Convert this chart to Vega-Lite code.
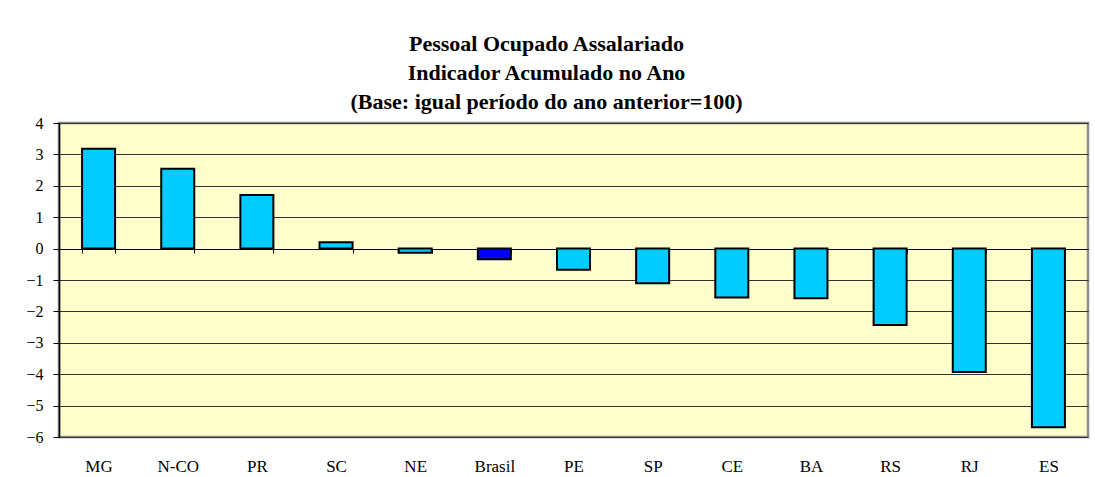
{
  "$schema": "https://vega.github.io/schema/vega-lite/v6.json",
  "width": 1029,
  "height": 314,
  "autosize": {"type": "none"},
  "padding": {"left": 59, "top": 123, "right": 7, "bottom": 40},
  "background": "white",
  "title": {
    "text": ["Pessoal Ocupado Assalariado", "Indicador Acumulado no Ano", "(Base: igual período do ano anterior=100)"],
    "font": "'Liberation Serif', 'Times New Roman', serif",
    "fontSize": 22,
    "fontWeight": "bold",
    "color": "black",
    "lineHeight": 29,
    "anchor": "middle",
    "dx": -27,
    "offset": 1
  },
  "data": {
    "values": [
      {"uf": "MG", "valor": 3.18, "tipo": "UF"},
      {"uf": "N-CO", "valor": 2.54, "tipo": "UF"},
      {"uf": "PR", "valor": 1.71, "tipo": "UF"},
      {"uf": "SC", "valor": 0.2, "tipo": "UF"},
      {"uf": "NE", "valor": -0.13, "tipo": "UF"},
      {"uf": "Brasil", "valor": -0.34, "tipo": "Brasil"},
      {"uf": "PE", "valor": -0.67, "tipo": "UF"},
      {"uf": "SP", "valor": -1.1, "tipo": "UF"},
      {"uf": "CE", "valor": -1.56, "tipo": "UF"},
      {"uf": "BA", "valor": -1.58, "tipo": "UF"},
      {"uf": "RS", "valor": -2.43, "tipo": "UF"},
      {"uf": "RJ", "valor": -3.93, "tipo": "UF"},
      {"uf": "ES", "valor": -5.69, "tipo": "UF"}
    ]
  },
  "mark": {"type": "bar", "stroke": "black", "strokeWidth": 2},
  "encoding": {
    "x": {
      "field": "uf",
      "type": "nominal",
      "sort": null,
      "scale": {"paddingInner": 0.583, "paddingOuter": 0.2915},
      "axis": {
        "title": null,
        "labelAngle": 0,
        "offset": -188,
        "domain": true,
        "domainColor": "black",
        "domainWidth": 1,
        "ticks": true,
        "tickBand": "extent",
        "tickSize": 4,
        "tickColor": "black",
        "labelPadding": 205,
        "labelFont": "'Liberation Serif', 'Times New Roman', serif",
        "labelFontSize": 17,
        "labelColor": "black",
        "grid": false
      }
    },
    "y": {
      "field": "valor",
      "type": "quantitative",
      "scale": {"domain": [-6, 4], "nice": false, "zero": false},
      "axis": {
        "title": null,
        "values": [-6, -5, -4, -3, -2, -1, 0, 1, 2, 3, 4],
        "domainColor": "black",
        "domainWidth": 1.5,
        "tickColor": "black",
        "tickSize": 6,
        "labelPadding": 10,
        "labelFont": "'Liberation Serif', 'Times New Roman', serif",
        "labelFontSize": 16,
        "labelColor": "black",
        "grid": true,
        "gridColor": "#333333",
        "gridWidth": 1,
        "gridOpacity": 1
      }
    },
    "color": {
      "field": "tipo",
      "type": "nominal",
      "scale": {"domain": ["UF", "Brasil"], "range": ["#00CCFF", "#0000FF"]},
      "legend": null
    }
  },
  "config": {
    "view": {"fill": "#FFFFCC", "stroke": "#8C8C8C", "strokeWidth": 2.5}
  }
}
